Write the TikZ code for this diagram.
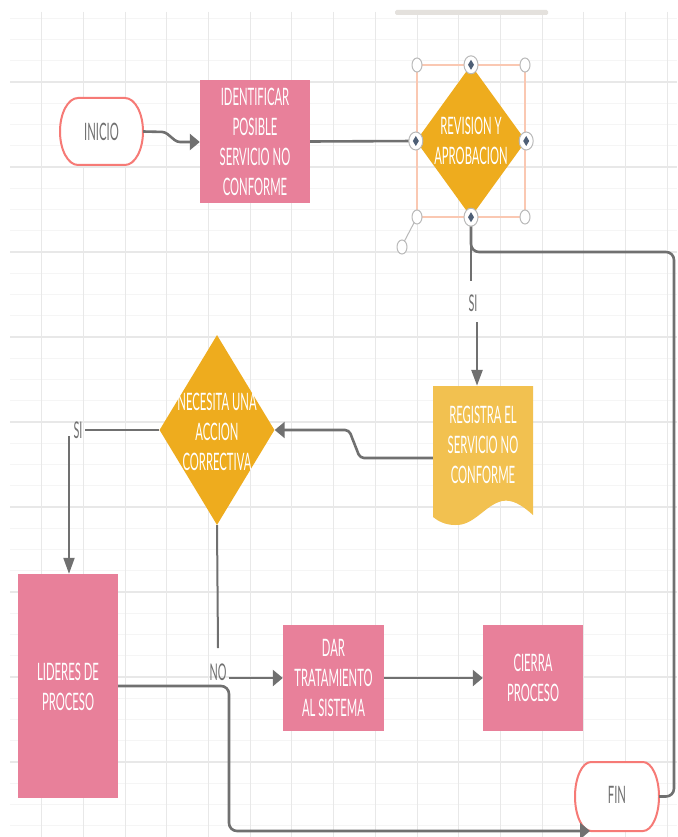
\documentclass[tikz,border=0pt]{standalone}
\usepackage{fontspec}
\setmainfont{Lato}[FakeStretch=0.47]
\usetikzlibrary{shapes.geometric,arrows.meta,calc}
\definecolor{pinkc}{RGB}{232,128,154}
\definecolor{orangec}{RGB}{238,172,30}
\definecolor{docc}{RGB}{242,193,80}
\definecolor{termc}{RGB}{246,122,118}
\definecolor{linec}{RGB}{112,112,112}
\definecolor{gridmaj}{RGB}{232,232,232}
\definecolor{gridmin}{RGB}{245,245,245}
\definecolor{selc}{RGB}{250,200,178}
\definecolor{handc}{RGB}{185,185,185}
\definecolor{handin}{RGB}{78,95,118}
\definecolor{barc}{RGB}{228,225,221}
\begin{document}
\begin{tikzpicture}[x=1pt,y=-1pt,
  txt/.style={font=\fontsize{24}{30}\selectfont, text=white, align=center, inner sep=0pt},
  gtxt/.style={font=\fontsize{24}{30}\selectfont, text=linec, align=center, inner sep=0pt},
  lbl/.style={font=\fontsize{23}{28}\selectfont, text=linec, inner sep=2pt},
  procbox/.style={rectangle, fill=pinkc, draw=none, inner sep=0pt},
  decbox/.style={diamond, fill=orangec, draw=none, inner sep=0pt},
  termbox/.style={rectangle, draw=none, inner sep=0pt},
  termline/.style={draw=termc, line width=2pt, fill=white},
  conn/.style={draw=linec, line width=2.6pt},
  connb/.style={draw=linec, line width=2pt},
  harr/.style={-{Triangle[length=10pt,width=16pt]}},
  varr/.style={-{Triangle[length=16pt,width=11pt]}},
  corner/.style={draw=handc, line width=1pt, fill=white},
]
\useasboundingbox (0,0) rectangle (677,837);
\fill[white] (0,0) rectangle (677,837);
% grid
\begin{scope}
\clip (10,12) rectangle (677,837);
\foreach \k in {0,...,40} {\draw[gridmin, line width=0.8pt] (10,{-3+21.25*\k}) -- (677,{-3+21.25*\k});}
\foreach \k in {1,...,9} {\draw[gridmaj, line width=1.5pt] (10,{-3+85*\k}) -- (677,{-3+85*\k});}
\foreach \k in {1,...,16} {\draw[gridmaj, line width=1pt] ({41.7*\k},12) -- ({41.7*\k},837);}
\end{scope}
% top bar
\fill[barc, rounded corners=1.5pt] (395,10) rectangle (548,15);

% terminators
\path[termline] (78,98) -- (125,98) .. controls (134.9,98) and (143,113) .. (143,131.5) .. controls (143,150) and (134.9,165) .. (125,165) -- (78,165) .. controls (68.1,165) and (60,150) .. (60,131.5) .. controls (60,113) and (68.1,98) .. (78,98) -- cycle;
\node[termbox, minimum width=83pt, minimum height=67pt] (inicio) at (101.5,131.5) {};
\node[gtxt] (inicioT) at (inicio.center) {INICIO};

\path[termline] (591,762) -- (643,762) .. controls (651.8,762) and (659,777.5) .. (659,796.5) .. controls (659,815.5) and (651.8,831) .. (643,831) -- (591,831) .. controls (582.2,831) and (575,815.5) .. (575,796.5) .. controls (575,777.5) and (582.2,762) .. (591,762) -- cycle;
\node[termbox, minimum width=84pt, minimum height=69pt] (fin) at (617,796.5) {};
\node[gtxt] (finT) at (617,795) {FIN};

% process boxes
\node[procbox, minimum width=110pt, minimum height=123pt] (ident) at (255,141.5) {};
\node[txt] (identT) at (255,142) {IDENTIFICAR\\POSIBLE\\SERVICIO NO\\CONFORME};

\node[procbox, minimum width=100pt, minimum height=224pt] (lideres) at (68,686) {};
\node[txt] (lideresT) at (68,687) {LIDERES DE\\PROCESO};

\node[procbox, minimum width=101pt, minimum height=106pt] (dar) at (333.5,678) {};
\node[txt] (darT) at (333.5,678) {DAR\\TRATAMIENTO\\AL SISTEMA};

\node[procbox, minimum width=100pt, minimum height=106pt] (cierra) at (533,678) {};
\node[txt] (cierraT) at (533,678) {CIERRA\\PROCESO};

% document
\fill[docc] (433,386) -- (533,386) -- (533,515) .. controls (522,505) and (512,499) .. (502,501) .. controls (485,505) and (474,526) .. (455,525) .. controls (445,525) and (438,521) .. (433,517) -- cycle;
\node[termbox, minimum width=100pt, minimum height=131pt] (reg) at (483,451.5) {};
\node[txt] (regT) at (483,445) {REGISTRA EL\\SERVICIO NO\\CONFORME};

% decisions
\node[decbox, minimum width=115pt, minimum height=190pt] (nec) at (217,430) {};
\node[txt] (necT) at (217,432) {NECESITA UNA\\ACCION\\CORRECTIVA};

\node[decbox, minimum width=110pt, minimum height=152pt] (rev) at (471,141) {};
\node[txt] (revT) at (471,141) {REVISION Y\\APROBACION};

% connectors
\coordinate (c1a) at (165,132);
\coordinate (c1b) at (177,142);
\draw[conn, harr, rounded corners=3pt] (inicio.east) -- (c1a) -- (c1b) -- (c1b -| ident.west);
\draw[conn] (ident.east) -- (rev.west);

\coordinate (r1) at (674,252);
\draw[conn, rounded corners=8pt] (rev.south) -- (rev.south |- r1) -- (r1) -- (r1 |- fin.east) -- (fin.east);

\node[lbl] (si1) at (473,303) {SI};
\coordinate (s1t) at (471,281);
\coordinate (s1b) at (477,322);
\draw[conn] (rev.south) -- (s1t);
\draw[conn, varr] (s1b) -- (s1b |- reg.north);

\coordinate (c5a) at (360,458);
\coordinate (c5b) at (349,430);
\draw[conn, harr, rounded corners=4pt] (reg.west |- c5a) -- (c5a) -- (c5b) -- (nec.east);

\node[lbl] (si2) at (78,430) {SI};
\draw[conn] (nec.west) -- (nec.west -| si2.east);
\coordinate (c6) at (69,436);
\draw[connb, varr] (c6) -- (c6 |- lideres.north);

\coordinate (n1) at (218,648);
\draw[connb] (nec.south) -- (n1);
\node[lbl] (no) at (218,672) {NO};
\draw[conn, harr] (no.east |- dar.west) -- (dar.west);
\draw[conn, harr] (dar.east) -- (cierra.west);

\coordinate (finin) at (590,831);
\coordinate (c9) at (229,686);
\draw[conn, harr, rounded corners=8pt] (lideres.east |- c9) -- (c9) -- (c9 |- finin) -- (finin);

% selection frame and handles on REVISION
\draw[selc, line width=1.3pt] (417,65) rectangle (525,217);
\draw[handc, line width=1pt] (417,217) -- (404,242);
\draw[corner] (402,247) ellipse [x radius=5pt, y radius=7pt];
\foreach \p in {(417,65),(525,65),(417,217),(525,217)} {\draw[corner] \p ellipse [x radius=5pt, y radius=7pt];}
\foreach \p in {(rev.north),(rev.south),(rev.west),(rev.east)} {
  \draw[corner] \p ellipse [x radius=7pt, y radius=9pt];
  \fill[handin] \p ++(0,-5) -- ++(3,5) -- ++(-3,5) -- ++(-3,-5) -- cycle;
}
\end{tikzpicture}
\end{document}
